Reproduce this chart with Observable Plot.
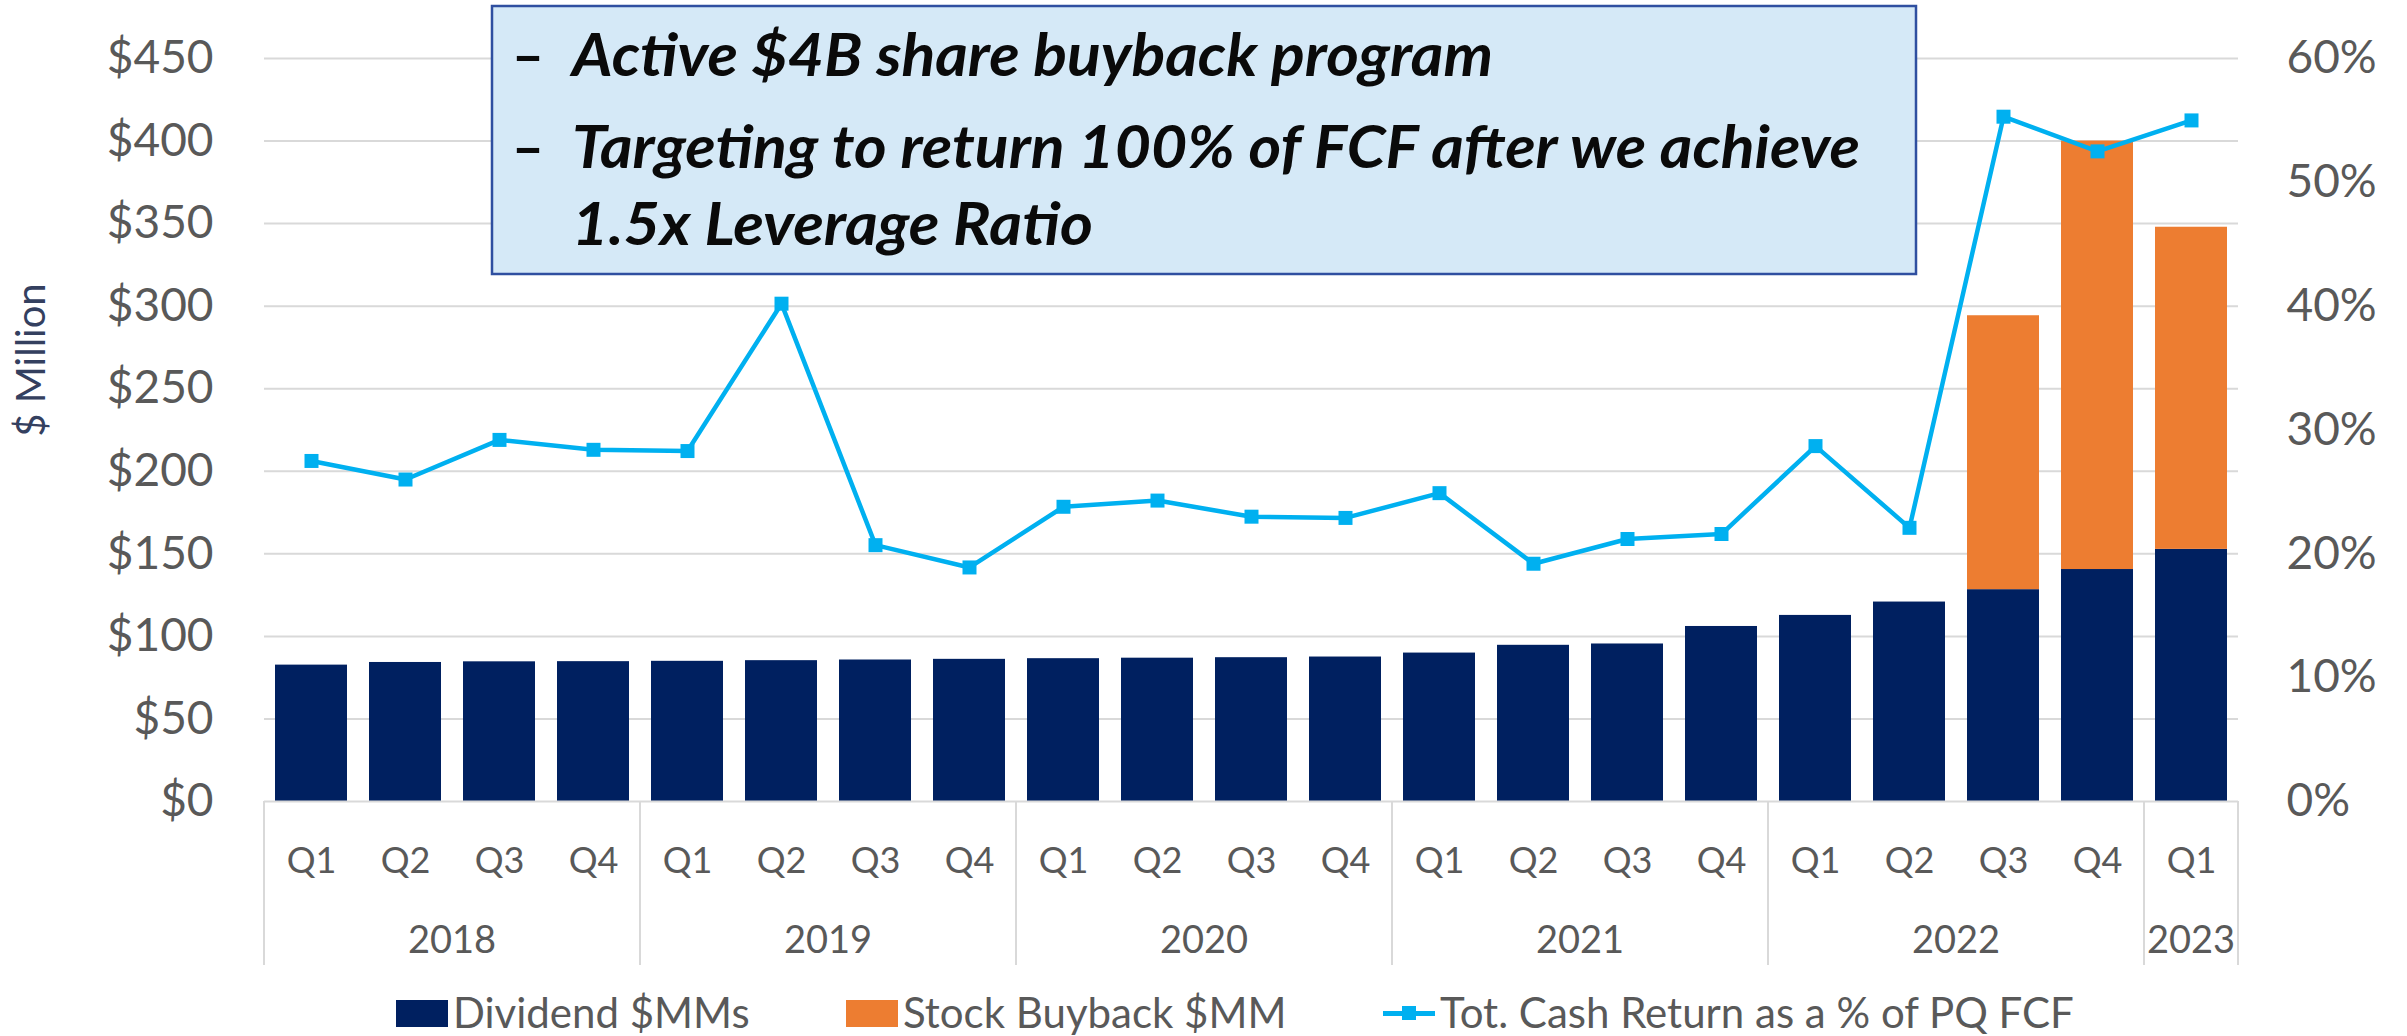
<!DOCTYPE html>
<html><head><meta charset="utf-8">
<script src="https://cdn.jsdelivr.net/npm/d3@7"></script>
<script src="https://cdn.jsdelivr.net/npm/@observablehq/plot@0.6"></script>
<style>
html,body{margin:0;padding:0;background:#fff;}
#wrap{position:relative;width:2407px;height:1036px;overflow:hidden;font-family:Lato, sans-serif;}
#chart svg{display:block;}
#legend{position:absolute;left:0;top:980px;width:2407px;height:56px;}
.sw{position:absolute;top:20px;width:52px;height:27px;}
.lt{position:absolute;top:32px;transform:translateY(-50%);font-size:42px;color:#595959;line-height:1.1;white-space:nowrap;}
</style></head><body><div id="wrap"><div id="chart"></div><div id="legend"></div></div>
<script>
// ---- data ----
const quarters = ["Q1","Q2","Q3","Q4","Q1","Q2","Q3","Q4","Q1","Q2","Q3","Q4","Q1","Q2","Q3","Q4","Q1","Q2","Q3","Q4","Q1"];
const years = ["2018","2018","2018","2018","2019","2019","2019","2019","2020","2020","2020","2020","2021","2021","2021","2021","2022","2022","2022","2022","2023"];
const dividend = [82.6,84.2,84.6,84.7,84.9,85.3,85.7,86.1,86.5,86.8,87.1,87.5,89.9,94.6,95.4,106.0,112.7,120.8,128.3,140.5,152.7];
const buyback = [0,0,0,0,0,0,0,0,0,0,0,0,0,0,0,0,0,0,165.9,259.5,195.1];
const cashReturnPct = [27.5,26.0,29.2,28.4,28.3,40.2,20.7,18.9,23.8,24.3,23.0,22.9,24.9,19.2,21.2,21.6,28.7,22.1,55.3,52.5,55.0];
const yTicks = [0,50,100,150,200,250,300,350,400,450];
const pctTicks = [0,10,20,30,40,50,60];
const seriesNames = ["Dividend $MMs","Stock Buyback $MM","Tot. Cash Return as a % of PQ FCF"];
const seriesColors = ["#002060","#ED7D31","#00B0F0"];
const yAxisTitle = "$ Million";
const annotationLines = ["Active $4B share buyback program","Targeting to return 100% of FCF after we achieve","1.5x Leverage Ratio"];

// ---- derived tables ----
const keys = quarters.map((q,i)=>years[i]+" "+q);
const barRows = keys.flatMap((k,i)=>[
  {key:k, series:seriesNames[0], value:dividend[i]},
  {key:k, series:seriesNames[1], value:buyback[i]}
]);
const lineRows = keys.map((k,i)=>({key:k, pct:cashReturnPct[i]}));
const pctToY = 450/60; // right axis: 60% aligned with $450

function yearAxis(index, scales) {
  const xs = scales.x, ys = scales.y;
  const step = xs.step(), bw = xs.bandwidth();
  const edge = key => xs(key) - (step - bw)/2;
  const base = ys(0);
  const g = d3.create("svg:g");
  const groups = d3.groups(keys.map((kk,i)=>({kk, year:years[i]})), d=>d.year);
  const bounds = groups.map(([yr,arr])=>({yr, x0:edge(arr[0].kk), x1:edge(arr[arr.length-1].kk)+step}));
  const seps = [bounds[0].x0, ...bounds.map(b=>b.x1)];
  g.selectAll("line").data(seps).join("line")
    .attr("x1",d=>d).attr("x2",d=>d).attr("y1",base).attr("y2",base+164)
    .attr("stroke","#d9d9d9").attr("stroke-width",2);
  g.selectAll("text").data(bounds).join("text")
    .attr("x",d=>(d.x0+d.x1)/2).attr("y",base+138).attr("dy","0.36em")
    .attr("text-anchor","middle").attr("font-size",38).attr("fill","#595959")
    .text(d=>d.yr);
  // y axis title
  g.append("text").attr("transform","translate(31,360) rotate(-90)")
    .attr("text-anchor","middle").attr("dy","0.36em").attr("font-size",40).attr("fill","#34405F")
    .text(yAxisTitle);
  return g.node();
}

function annotation() {
  const g = d3.create("svg:g").attr("text-anchor","start");
  g.append("rect").attr("x",492).attr("y",6).attr("width",1424).attr("height",268)
    .attr("fill","#D5E9F7").attr("stroke","#2F4FA0").attr("stroke-width",2.5);
  const layout = [{y:76,w:921,dash:true},{y:168,w:1288,dash:true},{y:245,w:521,dash:false}];
  annotationLines.forEach((t,i)=>{
    const L = layout[i];
    if (L.dash) g.append("text").attr("x",512).attr("y",L.y).attr("text-anchor","start")
      .attr("font-size",58).attr("font-weight","bold").attr("fill","#0a0a0a")
      .attr("textLength",32).attr("lengthAdjust","spacingAndGlyphs").text("–");
    g.append("text").attr("x",572).attr("y",L.y).attr("text-anchor","start")
      .attr("font-size",60).attr("font-weight","bold")
      .attr("font-style","italic").attr("fill","#0a0a0a")
      .attr("textLength",L.w).attr("lengthAdjust","spacingAndGlyphs").text(t);
  });
  return g.node();
}

const chart = Plot.plot({
  width:2407, height:980,
  marginLeft:264, marginRight:169, marginTop:58, marginBottom:179,
  style:{fontFamily:"Lato, sans-serif", background:"#fff", overflow:"visible"},
  x:{domain:keys, paddingInner:0.235, paddingOuter:0.1175, align:0.5, axis:null},
  y:{domain:[0,450], axis:null},
  color:{domain:seriesNames.slice(0,2), range:seriesColors.slice(0,2)},
  marks:[
    Plot.gridY(yTicks.slice(1), {stroke:"#d9d9d9", strokeOpacity:1, strokeWidth:2}),
    annotation,
    Plot.barY(barRows, {x:"key", y:"value", fill:"series", order:seriesNames.slice(0,2)}),
    Plot.ruleY([0], {stroke:"#d9d9d9", strokeWidth:2}),
    Plot.axisY(yTicks, {anchor:"left", tickSize:0, tickPadding:51, tickFormat:d=>"$"+d, fontSize:46, color:"#595959", label:null}),
    Plot.axisY(pctTicks.map(p=>p*pctToY), {anchor:"right", tickSize:0, tickPadding:48, tickFormat:v=>Math.round(v/pctToY)+"%", fontSize:46, color:"#595959", label:null}),
    Plot.axisX(keys, {anchor:"bottom", tickSize:0, tickPadding:46, tickFormat:d=>d.split(" ")[1], fontSize:36, color:"#595959", label:null}),
    yearAxis,
    Plot.line(lineRows, {x:"key", y:d=>d.pct*pctToY, stroke:seriesColors[2], strokeWidth:4.5}),
    Plot.dot(lineRows, {x:"key", y:d=>d.pct*pctToY, symbol:"square", r:7.9, fill:seriesColors[2], stroke:"none"})
  ]
});
document.getElementById("chart").appendChild(chart);

// ---- legend ----
const legend = document.getElementById("legend");
const legendLayout = [{sw:396, tx:453},{sw:846, tx:903},{sw:1383, tx:1440}];
seriesNames.forEach((name,i)=>{
  const L = legendLayout[i];
  if (i<2) {
    const s = document.createElement("div"); s.className="sw"; s.style.left=L.sw+"px"; s.style.background=seriesColors[i]; legend.appendChild(s);
  } else {
    const ln = document.createElement("div");
    ln.style.cssText=`position:absolute;left:${L.sw}px;top:31px;width:52px;height:5px;background:${seriesColors[i]}`;
    legend.appendChild(ln);
    const sq = document.createElement("div");
    sq.style.cssText=`position:absolute;left:${L.sw+19}px;top:26px;width:14px;height:14px;background:${seriesColors[i]}`;
    legend.appendChild(sq);
  }
  const t = document.createElement("div"); t.className="lt"; t.style.left=L.tx+"px"; t.textContent=name; legend.appendChild(t);
});
</script></body></html>
